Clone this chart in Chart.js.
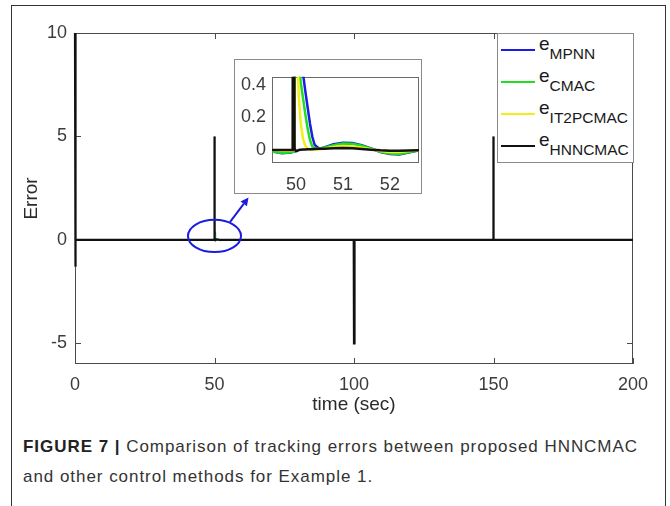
<!DOCTYPE html>
<html>
<head>
<meta charset="utf-8">
<script src="https://cdn.jsdelivr.net/npm/chart.js@4.4.0/dist/chart.umd.min.js"></script>
<style>
html,body{margin:0;padding:0;background:#fff;}
body{width:670px;height:506px;position:relative;overflow:hidden;font-family:"Liberation Sans",Arial,Helvetica,sans-serif;}
#frame{position:absolute;left:11px;top:5px;width:655px;height:520px;border:1px solid #333;box-sizing:border-box;}
#mainWrap{position:absolute;left:0;top:0;width:670px;height:420px;}
#insetWrap{position:absolute;left:234px;top:59px;width:188px;height:135px;background:#fff;border:1px solid #8a8a8a;box-sizing:border-box;}
#legend{position:absolute;left:497px;top:33px;width:137px;height:130px;background:#fff;border:1px solid #8a8a8a;box-sizing:border-box;}
.item{position:absolute;left:0;height:32px;width:135px;}
.sw{position:absolute;left:3px;top:15px;width:34px;height:2px;}
.lab{position:absolute;left:41px;top:-1px;font-size:19px;color:#1a1a1a;line-height:22px;white-space:nowrap;}
.lab sub{font-size:15.5px;vertical-align:-9px;line-height:0;}
#cap{position:absolute;left:23px;top:432px;font-size:17px;line-height:30px;color:#333;white-space:nowrap;}
#cap b{color:#222;}
</style>
</head>
<body>
<div id="frame"></div>
<div id="mainWrap"><canvas id="main" width="670" height="420"></canvas></div>
<div id="insetWrap"><canvas id="inset" width="186" height="133"></canvas></div>
<div id="legend"></div>
<div id="cap"><span id="line1"><b>FIGURE 7 |</b> Comparison of tracking errors between proposed HNNCMAC</span><br><span id="line2">and other control methods for Example 1.</span></div>
<script>
// ---- data ----
const seriesNames = ["MPNN", "CMAC", "IT2PCMAC", "HNNCMAC"];
const time = [0, 0.05, 0.3,
  49.5, 49.7, 49.9, 49.93, 49.95, 49.97,
  50.0, 50.03, 50.06, 50.1, 50.15, 50.2, 50.25, 50.3, 50.35, 50.4,
  50.5, 50.6, 50.8, 51.0, 51.2, 51.4, 51.6, 51.8, 52.0, 52.2, 52.4, 52.6, 52.8,
  99.9, 99.95, 100.0, 100.05, 100.3,
  149.9, 149.95, 150.0, 150.05, 150.3,
  200];
const eMPNN = [10, -1.3, 0,
  -0.01, -0.02, -0.015, -0.012, -0.01, -0.005,
  5, 3, 1.5, 0.8, 0.47, 0.36, 0.26, 0.16, 0.08, 0.03,
  0.008, 0.015, 0.035, 0.045, 0.043, 0.03, 0.01, -0.012, -0.025, -0.027, -0.016, -0.004, 0,
  0, 0, -5, 0, 0,
  0, 0, 5, 0, 0,
  0];
const eCMAC = [10, -1.3, 0,
  -0.01, -0.018, -0.014, -0.011, -0.009, -0.004,
  5, 1.8, 0.55, 0.42, 0.32, 0.22, 0.13, 0.06, 0.02, 0.01,
  0.008, 0.014, 0.03, 0.04, 0.038, 0.026, 0.008, -0.011, -0.022, -0.024, -0.014, -0.003, 0,
  0, 0, -5, 0, 0,
  0, 0, 5, 0, 0,
  0];
const eIT2PCMAC = [10, -1.3, 0,
  0, -0.005, -0.004, -0.003, -0.002, 0,
  5, 0.6, 0.33, 0.17, 0.07, 0.025, 0.008, 0.003, 0.003, 0.004,
  0.005, 0.008, 0.018, 0.024, 0.022, 0.014, 0.004, -0.006, -0.012, -0.012, -0.006, -0.001, 0,
  0, 0, -5, 0, 0,
  0, 0, 5, 0, 0,
  0];
const eHNNCMAC = [10, -1.3, 0,
  0, 0, 0, 0, 5, 0.01,
  -0.008, -0.005, 0, 0.002, 0.003, 0.003, 0.004, 0.005, 0.005, 0.006,
  0.007, 0.008, 0.01, 0.012, 0.01, 0.006, 0.002, -0.002, -0.004, -0.004, -0.003, -0.001, 0,
  0, 0, -5, 0, 0,
  0, 0, 5, 0, 0,
  0];
const mainXTicks = [0, 50, 100, 150, 200];
const mainYTicks = [-5, 0, 5, 10];
const insetXTicks = [50, 51, 52];
const insetYTicks = [0, 0.2, 0.4];

// ---- styling ----
const colors = ["#1c1ce4", "#22dc22", "#f0f018", "#111111"];
const orders = [3, 2, 1, 0];
const seriesValues = [eMPNN, eCMAC, eIT2PCMAC, eHNNCMAC];

function makeDatasets(colorWidth, blackWidth, blackClip) {
  return seriesNames.map((n, i) => ({
    label: "e" + n,
    data: time.map((t, k) => ({x: t, y: seriesValues[i][k]})),
    borderColor: colors[i],
    backgroundColor: colors[i],
    borderWidth: i === 3 ? blackWidth : colorWidth,
    pointRadius: 0,
    tension: 0,
    fill: false,
    clip: i === 3 ? blackClip : 0,
    order: orders[i]
  }));
}

const boxTicks = {
  id: 'boxTicks',
  beforeDatasetsDraw(chart, args, opts) {
    const {ctx, chartArea: a, scales: {x, y}} = chart;
    ctx.save();
    ctx.strokeStyle = opts.color;
    ctx.lineWidth = 1;
    ctx.strokeRect(Math.round(a.left) + 0.5, Math.round(a.top) + 0.5, Math.round(a.right - a.left) - 1, Math.round(a.bottom - a.top) - 1);
    if (opts.len) {
      ctx.beginPath();
      x.ticks.forEach(t => {
        const p = Math.round(x.getPixelForValue(t.value)) + 0.5;
        ctx.moveTo(p, a.bottom); ctx.lineTo(p, a.bottom - opts.len);
        ctx.moveTo(p, a.top); ctx.lineTo(p, a.top + opts.len);
      });
      y.ticks.forEach(t => {
        const p = Math.round(y.getPixelForValue(t.value)) + 0.5;
        ctx.moveTo(a.left, p); ctx.lineTo(a.left + opts.len, p);
        ctx.moveTo(a.right, p); ctx.lineTo(a.right - opts.len, p);
      });
      ctx.stroke();
    }
    ctx.restore();
  }
};

const zoomMark = {
  id: 'zoomMark',
  afterDatasetsDraw(chart, args, opts) {
    if (!opts.show) return;
    const {ctx, scales: {x, y}} = chart;
    const cx = x.getPixelForValue(50), cy = y.getPixelForValue(0.19);
    const rx = x.getPixelForValue(50 + 9.5) - cx;
    const ry = cy - y.getPixelForValue(0.19 + 0.78);
    ctx.save();
    ctx.strokeStyle = "#1c1ce0";
    ctx.fillStyle = "#1c1ce0";
    ctx.lineWidth = 2;
    ctx.beginPath();
    ctx.ellipse(cx, cy, rx, ry, 0, 0, Math.PI * 2);
    ctx.stroke();
    const x0 = x.getPixelForValue(55.6), y0 = y.getPixelForValue(0.87);
    const x1 = x.getPixelForValue(62.2), y1 = y.getPixelForValue(2.05);
    const ang = Math.atan2(y1 - y0, x1 - x0);
    const hl = 8, hw = 4;
    const bx = x1 - hl * Math.cos(ang), by = y1 - hl * Math.sin(ang);
    ctx.beginPath();
    ctx.moveTo(x0, y0); ctx.lineTo(bx, by);
    ctx.stroke();
    ctx.beginPath();
    ctx.moveTo(x1, y1);
    ctx.lineTo(bx + hw * Math.sin(ang), by - hw * Math.cos(ang));
    ctx.lineTo(bx - hw * Math.sin(ang), by + hw * Math.cos(ang));
    ctx.closePath();
    ctx.fill();
    ctx.restore();
  }
};

const tickFont = {family: "'Liberation Sans', Arial, sans-serif", size: 18};

new Chart(document.getElementById('main'), {
  type: 'line',
  data: {datasets: makeDatasets(1.2, 2.2, {left: 2, top: 1, right: 0, bottom: 0})},
  plugins: [boxTicks, zoomMark],
  options: {
    responsive: false,
    animation: false,
    devicePixelRatio: 1,
    layout: {padding: {left: 16, top: 33, right: 37, bottom: 0}},
    plugins: {legend: {display: false}, tooltip: {enabled: false},
      boxTicks: {color: "#4a4a4a", len: 6}, zoomMark: {show: true}},
    scales: {
      x: {
        type: 'linear', min: 0, max: 200,
        afterBuildTicks: s => { s.ticks = mainXTicks.map(v => ({value: v})); },
        afterFit: s => { s.height = 56; },
        grid: {display: false, drawTicks: false},
        border: {display: false},
        ticks: {font: tickFont, color: "#3c3c3c", padding: 10, maxRotation: 0},
        title: {display: true, text: "time (sec)", font: {family: tickFont.family, size: 19}, color: "#2a2a2a", padding: {top: 0, bottom: 4}}
      },
      y: {
        type: 'linear', min: -6, max: 10,
        afterBuildTicks: s => { s.ticks = mainYTicks.map(v => ({value: v})); },
        afterFit: s => { s.width = 59; },
        grid: {display: false, drawTicks: false},
        border: {display: false},
        ticks: {font: tickFont, color: "#3c3c3c", padding: 8},
        title: {display: true, text: "Error", font: {family: tickFont.family, size: 19}, color: "#2a2a2a", padding: {top: 4, bottom: 0}}
      }
    }
  }
});

new Chart(document.getElementById('inset'), {
  type: 'line',
  data: {datasets: makeDatasets(2.5, 2.5, 0)},
  plugins: [boxTicks],
  options: {
    responsive: false,
    animation: false,
    devicePixelRatio: 1,
    layout: {padding: {left: 0, top: 2, right: 2, bottom: 0}},
    plugins: {legend: {display: false}, tooltip: {enabled: false},
      boxTicks: {color: "#6a6a6a", len: 0}},
    scales: {
      x: {
        type: 'linear', min: 49.49, max: 52.62,
        afterBuildTicks: s => { s.ticks = insetXTicks.map(v => ({value: v})); },
        afterFit: s => { s.height = 30; },
        grid: {display: false, drawTicks: false},
        border: {display: false},
        ticks: {font: tickFont, color: "#3c3c3c", padding: 11, maxRotation: 0},
      },
      y: {
        type: 'linear', min: -0.08, max: 0.45,
        afterBuildTicks: s => { s.ticks = insetYTicks.map(v => ({value: v})); },
        afterFit: s => { s.width = 37; },
        grid: {display: false, drawTicks: false},
        border: {display: false},
        ticks: {font: tickFont, color: "#3c3c3c", padding: 6, callback: v => (v === 0 ? "0" : String(v))}
      }
    }
  }
});

// ---- legend (HTML, with subscripts) ----
const legend = document.getElementById('legend');
seriesNames.forEach((n, i) => {
  const it = document.createElement('div');
  it.className = 'item';
  it.style.top = (i * 32) + 'px';
  const sw = document.createElement('span');
  sw.className = 'sw';
  sw.style.background = colors[i];
  const lab = document.createElement('span');
  lab.className = 'lab';
  lab.innerHTML = 'e<sub>' + n + '</sub>';
  it.appendChild(sw); it.appendChild(lab);
  legend.appendChild(it);
});

// ---- fit caption line width ----
const l1 = document.getElementById('line1');
const w = l1.getBoundingClientRect().width;
const target = 615;
const n = l1.textContent.length;
document.getElementById('cap').style.letterSpacing = ((target - w) / n).toFixed(3) + 'px';
</script>
</body>
</html>
